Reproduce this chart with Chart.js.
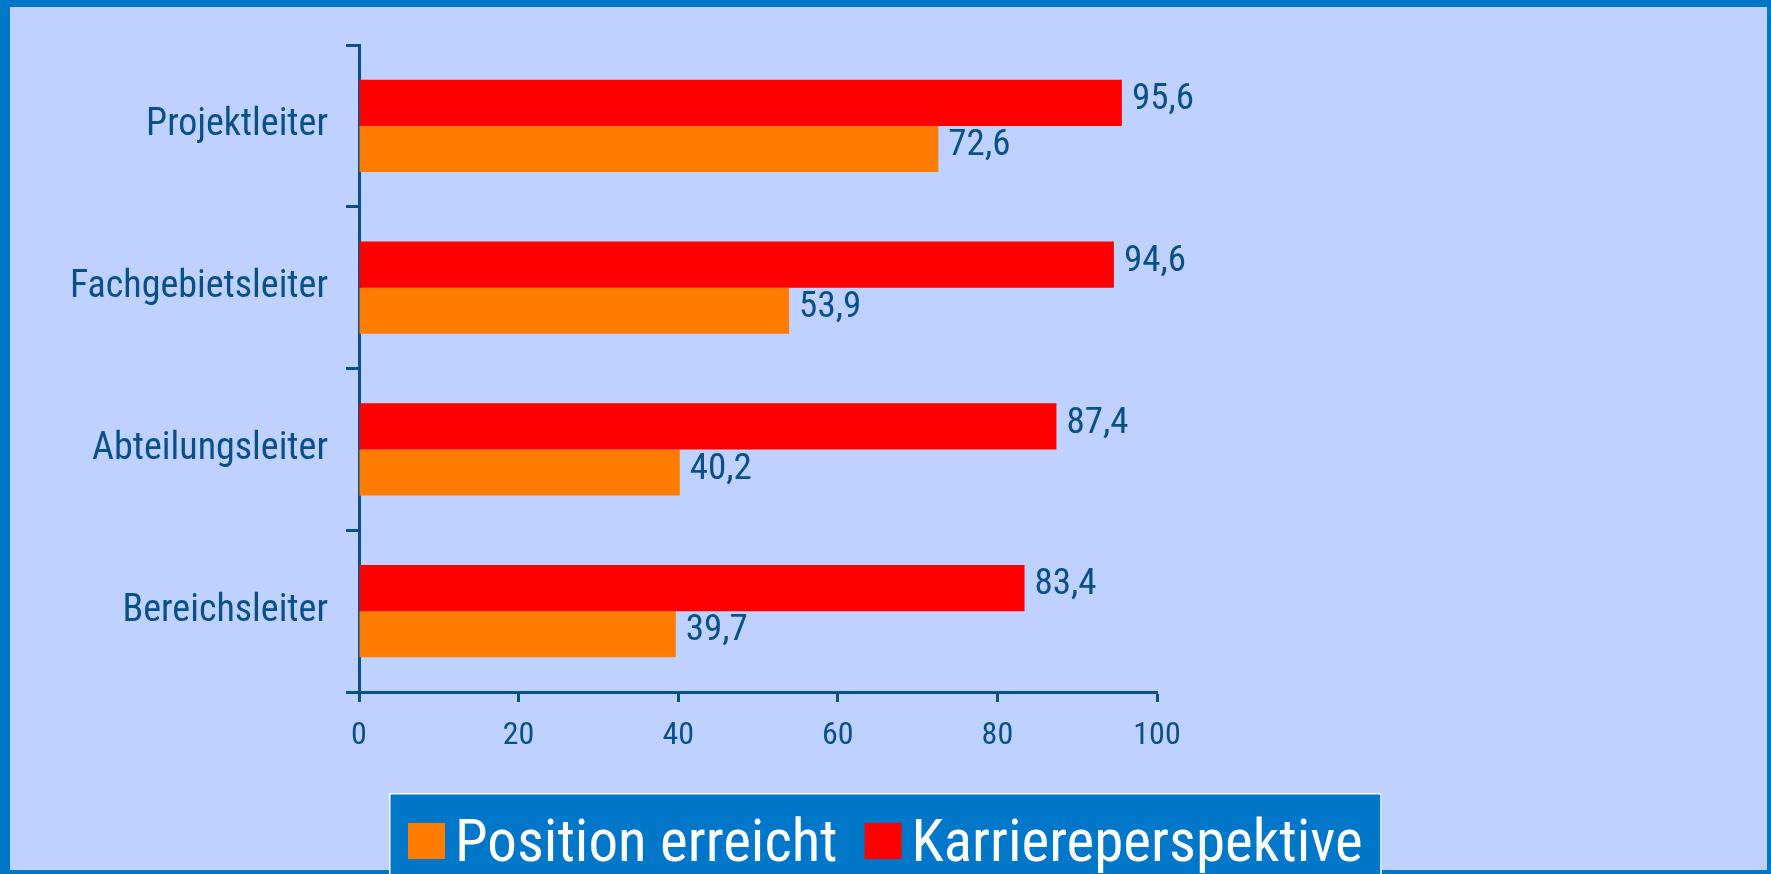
<!DOCTYPE html>
<html>
<head>
<meta charset="utf-8">
<script src="https://cdn.jsdelivr.net/npm/chart.js@4.4.1/dist/chart.umd.min.js"></script>
<style>
html,body{margin:0;padding:0;background:#0077C8;overflow:hidden;}
#wrap{position:relative;width:1771px;height:874px;}
</style>
</head>
<body>
<div id="wrap"><canvas id="c" width="1771" height="874"></canvas></div>
<script>
const categories = ['Projektleiter', 'Fachgebietsleiter', 'Abteilungsleiter', 'Bereichsleiter'];
const karriereperspektive = [95.6, 94.6, 87.4, 83.4];
const positionErreicht = [72.6, 53.9, 40.2, 39.7];
const seriesNames = ['Karriereperspektive', 'Position erreicht'];
const xTicks = [0, 20, 40, 60, 80, 100];

const FONT = '"Roboto Condensed", "DejaVu Sans Condensed", sans-serif';
const DARK = '#0A5088';
const FRAME = '#0077C8';
const BG = '#BFD1FF';

const framePlugin = {
  id: 'frame',
  beforeDraw(chart) {
    const ctx = chart.ctx;
    ctx.save();
    ctx.fillStyle = FRAME;
    ctx.fillRect(0, 0, chart.width, chart.height);
    ctx.fillStyle = BG;
    ctx.fillRect(10, 7, 1757, 863);
    ctx.restore();
  }
};

const valueLabels = {
  id: 'valueLabels',
  afterDatasetsDraw(chart) {
    const ctx = chart.ctx;
    ctx.save();
    ctx.font = '37px ' + FONT;
    ctx.fillStyle = DARK;
    ctx.textAlign = 'left';
    ctx.textBaseline = 'middle';
    chart.data.datasets.forEach((ds, i) => {
      const meta = chart.getDatasetMeta(i);
      meta.data.forEach((el, j) => {
        const txt = ds.data[j].toFixed(1).replace('.', ',');
        ctx.fillText(txt, el.x + 10, el.y - 3);
      });
    });
    ctx.restore();
  }
};

const boxLegend = {
  id: 'boxLegend',
  afterDraw(chart) {
    const ctx = chart.ctx;
    ctx.save();
    ctx.font = '59px ' + FONT;
    const items = chart.data.datasets.slice().reverse();
    const sq = 37, gapBoxText = 10, gapItems = 27, padX = 19;
    let total = 0;
    items.forEach((ds, i) => {
      total += sq + gapBoxText + ctx.measureText(ds.label).width;
      if (i < items.length - 1) total += gapItems;
    });
    const boxW = total + padX * 2;
    const boxX = Math.round(chart.width / 2 - boxW / 2);
    const boxY = 793;
    ctx.fillStyle = FRAME;
    ctx.fillRect(boxX, boxY, boxW, 100);
    ctx.strokeStyle = '#FFFFFF';
    ctx.lineWidth = 1.5;
    ctx.strokeRect(boxX + 0.75, boxY + 0.75, boxW - 1.5, 100);
    let x = boxX + padX;
    ctx.textBaseline = 'alphabetic';
    items.forEach((ds) => {
      ctx.fillStyle = ds.backgroundColor;
      ctx.fillRect(x, 823, sq, 36);
      x += sq + gapBoxText;
      ctx.fillStyle = '#FFFFFF';
      ctx.fillText(ds.label, x, 861);
      x += ctx.measureText(ds.label).width + gapItems;
    });
    ctx.restore();
  }
};

new Chart(document.getElementById('c'), {
  type: 'bar',
  data: {
    labels: categories,
    datasets: [
      { label: seriesNames[0], data: karriereperspektive, backgroundColor: '#FF0000', categoryPercentage: 0.57, barPercentage: 1.0 },
      { label: seriesNames[1], data: positionErreicht, backgroundColor: '#FF7C00', categoryPercentage: 0.57, barPercentage: 1.0 }
    ]
  },
  options: {
    indexAxis: 'y',
    responsive: false,
    animation: false,
    devicePixelRatio: 1,
    layout: { padding: { top: 45, right: 614, left: 0, bottom: 0 } },
    plugins: { legend: { display: false }, tooltip: { enabled: false } },
    scales: {
      x: {
        min: 0, max: 100,
        afterBuildTicks(scale) { scale.ticks = xTicks.map(v => ({ value: v })); },
        afterFit(scale) { scale.height = 874 - 692; },
        grid: { display: true, drawOnChartArea: false, drawTicks: true, tickLength: 10, tickColor: DARK, tickWidth: 3 },
        border: { display: true, color: DARK, width: 3 },
        ticks: { color: DARK, font: { family: FONT, size: 32 }, padding: 15, maxRotation: 0 }
      },
      y: {
        afterFit(scale) { scale.width = 359; },
        grid: { display: true, offset: true, drawOnChartArea: false, drawTicks: true, tickLength: 13, tickColor: DARK, tickWidth: 3 },
        border: { display: true, color: DARK, width: 3 },
        ticks: { color: DARK, font: { family: FONT, size: 38 }, padding: 18 }
      }
    }
  },
  plugins: [framePlugin, valueLabels, boxLegend]
});
</script>
</body>
</html>
